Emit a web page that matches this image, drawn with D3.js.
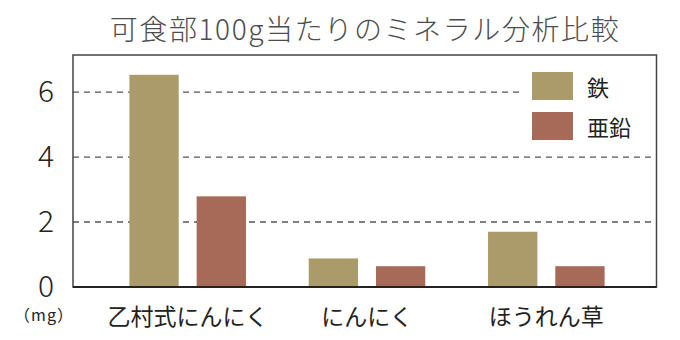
<!DOCTYPE html>
<html>
<head>
<meta charset="utf-8">
<script src="https://cdn.jsdelivr.net/npm/d3@7"></script>
<style>
  html, body { margin: 0; padding: 0; background: #fff; }
  svg { display: block; }
  text { font-family: "Noto Sans CJK JP", "Noto Sans", sans-serif; }
</style>
</head>
<body>
<svg id="chart" width="680" height="340"></svg>
<script>
// Mineral content per 100 g of edible portion (mg)
const categories = ["乙村式にんにく", "にんにく", "ほうれん草"];
const seriesNames = ["鉄", "亜鉛"];
const ironValues = [6.53, 0.88, 1.70];
const zincValues = [2.79, 0.64, 0.64];
const yTicks = [0, 2, 4, 6];
const yMax = 7.14;
const titleText = "可食部100g当たりのミネラル分析比較";
const unitText = "（mg）";

const colors = { "鉄": "#ab9a6a", "亜鉛": "#a66a58" };

const rows = categories.map((c, i) => ({ category: c, values: [ironValues[i], zincValues[i]] }));

const svg = d3.select("#chart");
const plot = { left: 73, right: 656.5, top: 55, bottom: 287 };

const x = d3.scaleBand().domain(categories).range([98, 636]).paddingInner(0).paddingOuter(0);
const xSub = d3.scaleBand().domain(seriesNames).range([0, x.bandwidth()])
  .paddingInner(0.2667).paddingOuter(0.4667);
const y = d3.scaleLinear().domain([0, yMax]).range([plot.bottom, plot.top]);

// Title
svg.append("text")
  .attr("x", 365).attr("y", 28)
  .attr("text-anchor", "middle").attr("dominant-baseline", "central")
  .attr("font-size", 28).attr("font-weight", 300)
  .attr("letter-spacing", 1.6)
  .attr("fill", "#4d4d4d")
  .text(titleText);

// Dashed gridlines
svg.append("g").selectAll("line")
  .data(yTicks.filter(t => t > 0))
  .join("line")
  .attr("x1", plot.left).attr("x2", plot.right)
  .attr("y1", d => y(d)).attr("y2", d => y(d))
  .attr("stroke", "#555").attr("stroke-width", 1.3)
  .attr("stroke-dasharray", "6,5");

// Bars
const groups = svg.append("g").selectAll("g")
  .data(rows).join("g")
  .attr("transform", d => `translate(${x(d.category)},0)`);
groups.selectAll("rect")
  .data(d => d.values.map((v, i) => ({ key: seriesNames[i], value: v })))
  .join("rect")
  .attr("x", d => xSub(d.key))
  .attr("width", xSub.bandwidth())
  .attr("y", d => y(d.value))
  .attr("height", d => y(0) - y(d.value))
  .attr("fill", d => colors[d.key]);

// Legend (white panel over the gridline)
const legend = svg.append("g");
legend.append("rect")
  .attr("x", 524).attr("y", 60).attr("width", 131).attr("height", 92)
  .attr("fill", "#fff");
const legendItems = legend.selectAll("g.item")
  .data(seriesNames).join("g").attr("class", "item")
  .attr("transform", (d, i) => `translate(532,${72 + i * 40})`);
legendItems.append("rect")
  .attr("width", 41).attr("height", 28)
  .attr("fill", d => colors[d]);
legendItems.append("text")
  .attr("x", 55).attr("y", 14)
  .attr("dominant-baseline", "central")
  .attr("font-size", 22).attr("fill", "#222")
  .text(d => d);

// Plot frame
svg.append("rect")
  .attr("x", plot.left).attr("y", plot.top)
  .attr("width", plot.right - plot.left).attr("height", plot.bottom - plot.top)
  .attr("fill", "none").attr("stroke", "#444").attr("stroke-width", 1.5);
svg.append("line")
  .attr("x1", plot.left).attr("x2", plot.right)
  .attr("y1", plot.bottom).attr("y2", plot.bottom)
  .attr("stroke", "#222").attr("stroke-width", 2);

// Y tick labels
svg.append("g").selectAll("text")
  .data(yTicks).join("text")
  .attr("x", 54).attr("y", d => y(d) - 3)
  .attr("text-anchor", "end").attr("dominant-baseline", "central")
  .attr("font-size", 30).attr("font-weight", 300).attr("fill", "#222")
  .text(d => d);

// Unit label
svg.append("text")
  .attr("x", 44).attr("y", 314)
  .attr("text-anchor", "middle").attr("dominant-baseline", "central")
  .attr("font-size", 16).attr("letter-spacing", 1).attr("fill", "#222")
  .text(unitText);

// Category labels
svg.append("g").selectAll("text")
  .data(categories).join("text")
  .attr("x", d => x(d) + x.bandwidth() / 2)
  .attr("y", 315)
  .attr("text-anchor", "middle").attr("dominant-baseline", "central")
  .attr("font-size", 23).attr("fill", "#222")
  .text(d => d);
</script>
</body>
</html>
